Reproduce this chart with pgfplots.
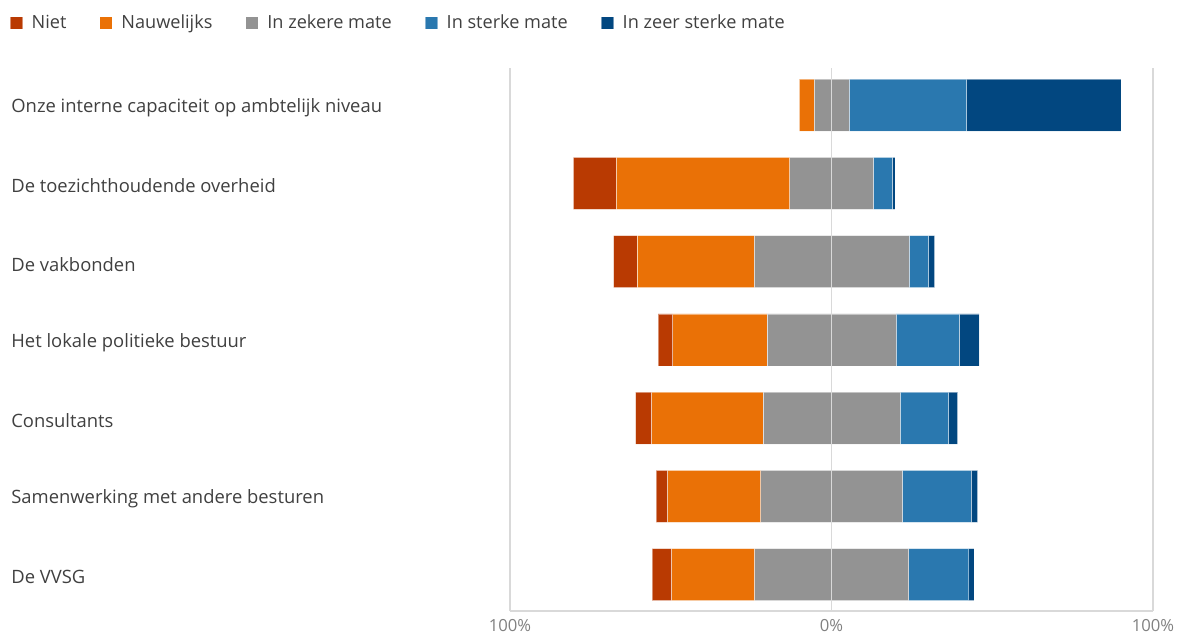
\documentclass[border=0pt]{standalone}
\usepackage{pgfplots}
\pgfplotsset{compat=1.18}
\usepackage{pgfplotstable}
\usepackage{fontspec}
\setmainfont{Open Sans}
\definecolor{cNiet}{HTML}{B93A02}
\definecolor{cNauw}{HTML}{EA7106}
\definecolor{cZeker}{HTML}{939393}
\definecolor{cSterk}{HTML}{2A78AF}
\definecolor{cZeer}{HTML}{024780}
\definecolor{txt}{HTML}{404040}
\definecolor{tick}{HTML}{808080}
\definecolor{grd}{HTML}{D9D9D9}
\pgfplotstableread{
y off niet nauw zeker sterk zeer
6 -10.0 0 4.6 10.8 36.6 48.0
5 -80.3 13.3 54.0 26.0 5.9 0.8
4 -67.8 7.3 36.4 48.2 6.1 1.9
3 -53.9 4.5 29.3 40.2 19.7 6.1
2 -60.95 4.9 34.7 42.7 15.1 2.8
1 -54.55 3.5 29.0 44.1 21.4 2.0
0 -55.8 6.0 25.8 48.0 18.7 1.6
}\data
\begin{document}
\begin{tikzpicture}
\useasboundingbox (0,0) rectangle (885pt,476.25pt);
\begin{axis}[
  at={(382.5pt,18pt)}, anchor=south west,
  scale only axis, width=482.25pt, height=407.25pt,
  xbar stacked, stack negative=on previous, bar width=39pt,
  xmin=-100, xmax=100, ymin=-0.465, ymax=6.475,
  axis on top,
  xtick={-100,0,100}, xticklabels={100\%,0\%,100\%},
  xmajorgrids, major grid style={grd, line width=0.9pt},
  ytick={0,1,2,3,4,5,6},
  yticklabels={De VVSG, Samenwerking met andere besturen, Consultants, Het lokale politieke bestuur, De vakbonden, De toezichthoudende overheid, Onze interne capaciteit op ambtelijk niveau},
  major tick length=0pt,
  axis x line*=bottom, axis y line*=left,
  x axis line style={grd, line width=0.9pt},
  y axis line style={draw=none},
  xticklabel style={font=\fontsize{12.5}{14}\selectfont, text=tick, yshift=-2.5pt},
  yticklabel style={font=\fontsize{13.8}{16}\selectfont, text=txt, anchor=west, xshift=-377.5pt, yshift=-2pt},
  legend columns=5,
  legend style={draw=none, fill=none, at={(axis description cs:-0.785,1.083)}, anchor=west,
    font=\fontsize{13.6}{16}\selectfont, text=txt,
    /tikz/every even column/.append style={column sep=22.6pt},
    /tikz/every odd column/.append style={column sep=4.5pt}},
  legend image code/.code={\fill[#1] (0pt,-4.8pt) rectangle (9.6pt,4.8pt);},
  every axis plot/.append style={draw=white, draw opacity=0.45, line width=0.5pt},
]
\addplot[fill=none, draw=none, forget plot] table[x=off, y=y] {\data};
\addplot[fill=cNiet] table[x=niet, y=y] {\data};
\addplot[fill=cNauw] table[x=nauw, y=y] {\data};
\addplot[fill=cZeker] table[x=zeker, y=y] {\data};
\addplot[fill=cSterk] table[x=sterk, y=y] {\data};
\addplot[fill=cZeer] table[x=zeer, y=y] {\data};
\legend{Niet, Nauwelijks, In zekere mate, In sterke mate, In zeer sterke mate}
\end{axis}
\end{tikzpicture}
\end{document}
